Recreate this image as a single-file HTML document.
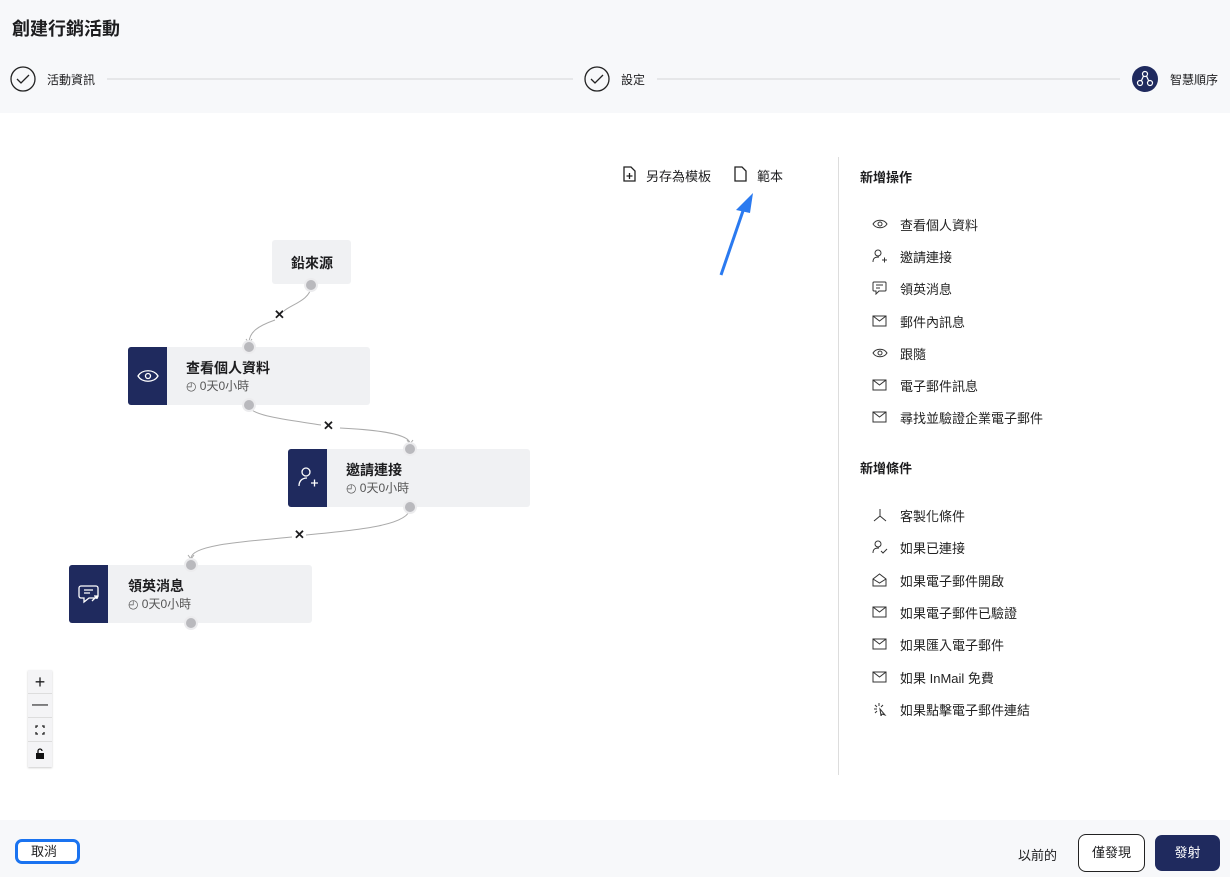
<!DOCTYPE html>
<html><head><meta charset="utf-8"><style>
*{margin:0;padding:0;box-sizing:border-box}
body{width:1230px;height:877px;background:#fff;position:relative;overflow:hidden;font-family:"Liberation Sans","Noto Sans CJK TC",sans-serif;color:#1d1d1f}
.a{position:absolute;white-space:nowrap}
.node{position:absolute;background:#f0f1f3;border-radius:3px}
.dk{position:absolute;left:0;top:0;bottom:0;width:39px;background:#1f2a5e;border-radius:3px 0 0 3px}
.dot{position:absolute;width:10px;height:10px;border-radius:50%;background:#b9b9bd;box-shadow:0 0 0 2px #ececee}
.t{font-size:14px;font-weight:bold}
.s{font-size:12px;color:#555}
.si{position:absolute;left:872px;width:300px;height:18px;font-size:13px;color:#222;white-space:nowrap}
.si svg{position:absolute;left:0;top:2px}
.si span{position:absolute;left:28px;top:0;white-space:nowrap}
</style></head><body>
<div class="a" style="left:0;top:0;width:1230px;height:113px;background:#f7f8fa"></div>
<div class="a" style="left:12px;top:15px;font-size:18px;font-weight:bold">創建行銷活動</div>
<svg class="a" style="left:0;top:60px" width="1230" height="40">
<circle cx="23" cy="19" r="12" fill="none" stroke="#222" stroke-width="1.3"/><path d="M17 19l4 4 8-8" fill="none" stroke="#222" stroke-width="1.3"/>
<line x1="107" y1="19" x2="573" y2="19" stroke="#d6d6d8"/>
<circle cx="597" cy="19" r="12" fill="none" stroke="#222" stroke-width="1.3"/><path d="M591 19l4 4 8-8" fill="none" stroke="#222" stroke-width="1.3"/>
<line x1="657" y1="19" x2="1120" y2="19" stroke="#d6d6d8"/>
<circle cx="1145" cy="19" r="13" fill="#1f2a5e"/>
<g fill="none" stroke="#fff" stroke-width="1.2"><circle cx="1145" cy="14" r="2.5"/><circle cx="1140" cy="23" r="2.5"/><circle cx="1150" cy="23" r="2.5"/><path d="M1143.5 16l-2 4.5M1146.5 16l2 4.5"/></g>
</svg>
<div class="a" style="left:47px;top:71px;font-size:12px">活動資訊</div>
<div class="a" style="left:621px;top:71px;font-size:12px">設定</div>
<div class="a" style="left:1170px;top:71px;font-size:12px">智慧順序</div>

<svg class="a" style="left:622px;top:166px" width="14" height="16"><path d="M2 1h7l4 4v10H2z" fill="none" stroke="#222" stroke-width="1.3"/><path d="M7.5 7v6M4.5 10h6" stroke="#222" stroke-width="1.3"/></svg>
<div class="a" style="left:646px;top:166px;font-size:13px">另存為模板</div>
<svg class="a" style="left:733px;top:166px" width="14" height="16"><path d="M2 1h7l4 4v10H2z" fill="none" stroke="#222" stroke-width="1.3"/></svg>
<div class="a" style="left:757px;top:166px;font-size:13px">範本</div>
<svg class="a" style="left:710px;top:185px" width="50" height="100"><path d="M11 90L35 20" stroke="#2a7af0" stroke-width="3"/><path d="M43 8L26 25 40 28z" fill="#2a7af0"/></svg>

<svg class="a" style="left:0;top:0" width="840" height="820" fill="none" stroke="#aaa" stroke-width="1">
<path d="M311 286C311 300 290 305 284 311"/><path d="M275 320C258 326 249 332 249 343"/><path d="M246 339l3 4 3-4" />
<path d="M249 406C250 416 290 420 321 425"/><path d="M340 428C380 430 408 434 410 443"/><path d="M407 440l3 4 3-4"/>
<path d="M410 508C410 525 360 530 306 535"/><path d="M292 537C240 542 192 545 191 558"/><path d="M188 555l3 4 3-4"/>
</svg>
<div class="a" style="left:274px;top:307px;font-size:13px;font-weight:bold">✕</div>
<div class="a" style="left:323px;top:418px;font-size:13px;font-weight:bold">✕</div>
<div class="a" style="left:294px;top:527px;font-size:13px;font-weight:bold">✕</div>

<div class="node" style="left:272px;top:240px;width:79px;height:44px"><div class="a t" style="left:19px;top:13px">鉛來源</div></div>
<div class="node" style="left:128px;top:347px;width:242px;height:58px"><div class="dk"></div>
<svg class="a" style="left:9px;top:19px" width="22" height="20"><path d="M1 10C5 3 17 3 21 10 17 17 5 17 1 10z" fill="none" stroke="#fff" stroke-width="1.3"/><circle cx="11" cy="10" r="2.5" fill="none" stroke="#fff" stroke-width="1.3"/></svg>
<div class="a t" style="left:58px;top:11px">查看個人資料</div><div class="a s" style="left:58px;top:30px">◴ 0天0小時</div></div>
<div class="node" style="left:288px;top:449px;width:242px;height:58px"><div class="dk"></div>
<svg class="a" style="left:10px;top:17px" width="22" height="24"><circle cx="8" cy="6" r="4" fill="none" stroke="#fff" stroke-width="1.3"/><path d="M1 20c0-5 3-8 8-8M13 17h7M16.5 13.5v7" fill="none" stroke="#fff" stroke-width="1.3"/></svg>
<div class="a t" style="left:58px;top:11px">邀請連接</div><div class="a s" style="left:58px;top:30px">◴ 0天0小時</div></div>
<div class="node" style="left:69px;top:565px;width:243px;height:58px"><div class="dk"></div>
<svg class="a" style="left:9px;top:19px" width="22" height="22"><path d="M3 2h15a2 2 0 012 2v8a2 2 0 01-2 2h-7l-5 4v-4H3a2 2 0 01-2-2V4a2 2 0 012-2z" fill="none" stroke="#fff" stroke-width="1.3"/><path d="M6 6h9M6 9h6M14 17l5-5M16 12h3v3" stroke="#fff" stroke-width="1.3" fill="none"/></svg>
<div class="a t" style="left:59px;top:11px">領英消息</div><div class="a s" style="left:59px;top:30px">◴ 0天0小時</div></div>
<div class="dot" style="left:306px;top:280px"></div>
<div class="dot" style="left:244px;top:342px"></div><div class="dot" style="left:244px;top:400px"></div>
<div class="dot" style="left:405px;top:444px"></div><div class="dot" style="left:405px;top:502px"></div>
<div class="dot" style="left:186px;top:560px"></div><div class="dot" style="left:186px;top:618px"></div>

<div class="a" style="left:28px;top:670px;width:24px;height:97px;background:#f4f4f6;box-shadow:0 1px 2px rgba(0,0,0,.2)">
<div class="a" style="left:0;top:0;width:24px;height:24px;border-bottom:1px solid #ddd;text-align:center;font-size:18px;line-height:24px">+</div>
<div class="a" style="left:0;top:24px;width:24px;height:24px;border-bottom:1px solid #ddd;text-align:center;font-size:16px;line-height:22px">—</div>
<div class="a" style="left:0;top:48px;width:24px;height:24px;border-bottom:1px solid #ddd"><svg width="24" height="24"><path d="M8 10V8h2M14 8h2v2M16 14v2h-2M10 16H8v-2" fill="none" stroke="#222" stroke-width="1.3"/></svg></div>
<div class="a" style="left:0;top:72px;width:24px;height:24px"><svg width="24" height="24"><rect x="8" y="11" width="8" height="6" fill="#111"/><path d="M10 11V9a2 2 0 014 0" fill="none" stroke="#111" stroke-width="1.3"/></svg></div>
</div>

<div class="a" style="left:838px;top:157px;width:1px;height:618px;background:#ddd"></div>
<div class="a" style="left:860px;top:167px;font-size:13px;font-weight:bold">新增操作</div>
<div class="a" style="left:860px;top:458px;font-size:13px;font-weight:bold">新增條件</div>
<div class="si" style="top:215px"><svg width="16" height="14"><path d="M1 7C4 2 12 2 15 7 12 12 4 12 1 7z" fill="none" stroke="#333"/><circle cx="8" cy="7" r="2" fill="none" stroke="#333"/></svg><span>查看個人資料</span></div>
<div class="si" style="top:247px"><svg width="16" height="14"><circle cx="6" cy="4" r="3" fill="none" stroke="#333"/><path d="M1 13c0-4 2-5 6-5M10 11h5M12.5 8.5v5" fill="none" stroke="#333"/></svg><span>邀請連接</span></div>
<div class="si" style="top:279px"><svg width="16" height="14"><path d="M2 1h11a1 1 0 011 1v7a1 1 0 01-1 1H7l-3 3v-3H2a1 1 0 01-1-1V2a1 1 0 011-1zM4 4h7M4 7h4" fill="none" stroke="#333"/></svg><span>領英消息</span></div>
<div class="si" style="top:312px"><svg width="16" height="14"><rect x="1" y="2" width="13" height="10" fill="none" stroke="#333"/><path d="M1 2l6.5 5L14 2" fill="none" stroke="#333"/></svg><span>郵件內訊息</span></div>
<div class="si" style="top:344px"><svg width="16" height="14"><path d="M1 7C4 2 12 2 15 7 12 12 4 12 1 7z" fill="none" stroke="#333"/><circle cx="8" cy="7" r="2" fill="none" stroke="#333"/></svg><span>跟隨</span></div>
<div class="si" style="top:376px"><svg width="16" height="14"><rect x="1" y="2" width="13" height="10" fill="none" stroke="#333"/><path d="M1 2l6.5 5L14 2" fill="none" stroke="#333"/></svg><span>電子郵件訊息</span></div>
<div class="si" style="top:408px"><svg width="16" height="14"><rect x="1" y="2" width="13" height="10" fill="none" stroke="#333"/><path d="M1 2l6.5 5L14 2" fill="none" stroke="#333"/></svg><span>尋找並驗證企業電子郵件</span></div>
<div class="si" style="top:506px"><svg width="16" height="14"><path d="M8 1v7L2 13M8 8l6 5" fill="none" stroke="#333"/></svg><span>客製化條件</span></div>
<div class="si" style="top:538px"><svg width="16" height="14"><circle cx="6" cy="4" r="3" fill="none" stroke="#333"/><path d="M1 13c0-4 2-5 6-5M9 11l2 2 4-4" fill="none" stroke="#333"/></svg><span>如果已連接</span></div>
<div class="si" style="top:571px"><svg width="16" height="14"><path d="M1 6l6.5-5L14 6v7H1zM1 6l6.5 4L14 6" fill="none" stroke="#333"/></svg><span>如果電子郵件開啟</span></div>
<div class="si" style="top:603px"><svg width="16" height="14"><rect x="1" y="2" width="13" height="10" fill="none" stroke="#333"/><path d="M1 2l6.5 5L14 2" fill="none" stroke="#333"/></svg><span>如果電子郵件已驗證</span></div>
<div class="si" style="top:635px"><svg width="16" height="14"><rect x="1" y="2" width="13" height="10" fill="none" stroke="#333"/><path d="M1 2l6.5 5L14 2" fill="none" stroke="#333"/></svg><span>如果匯入電子郵件</span></div>
<div class="si" style="top:668px"><svg width="16" height="14"><rect x="1" y="2" width="13" height="10" fill="none" stroke="#333"/><path d="M1 2l6.5 5L14 2" fill="none" stroke="#333"/></svg><span>如果 InMail 免費</span></div>
<div class="si" style="top:700px"><svg width="16" height="14"><path d="M7 1v3M2 7h3M3 3l2 2M11 3l-2 2M3 11l2-2M8 7l5 6-3-1-1 2z" fill="none" stroke="#333"/></svg><span>如果點擊電子郵件連結</span></div>

<div class="a" style="left:0;top:820px;width:1230px;height:57px;background:#f7f8fa"></div>
<div class="a" style="left:15px;top:839px;width:65px;height:25px;border:3px solid #1a73f0;border-radius:7px;background:#fff;font-size:13px;padding-left:13px;line-height:19px">取消</div>
<div class="a" style="left:1018px;top:845px;font-size:13px">以前的</div>
<div class="a" style="left:1078px;top:834px;width:67px;height:38px;border:1px solid #222;border-radius:8px;background:#fff;font-size:13px;text-align:center;line-height:36px">僅發現</div>
<div class="a" style="left:1155px;top:835px;width:65px;height:36px;border-radius:7px;background:#1f2a5e;color:#fff;font-size:13px;text-align:center;line-height:36px">發射</div>
</body></html>
